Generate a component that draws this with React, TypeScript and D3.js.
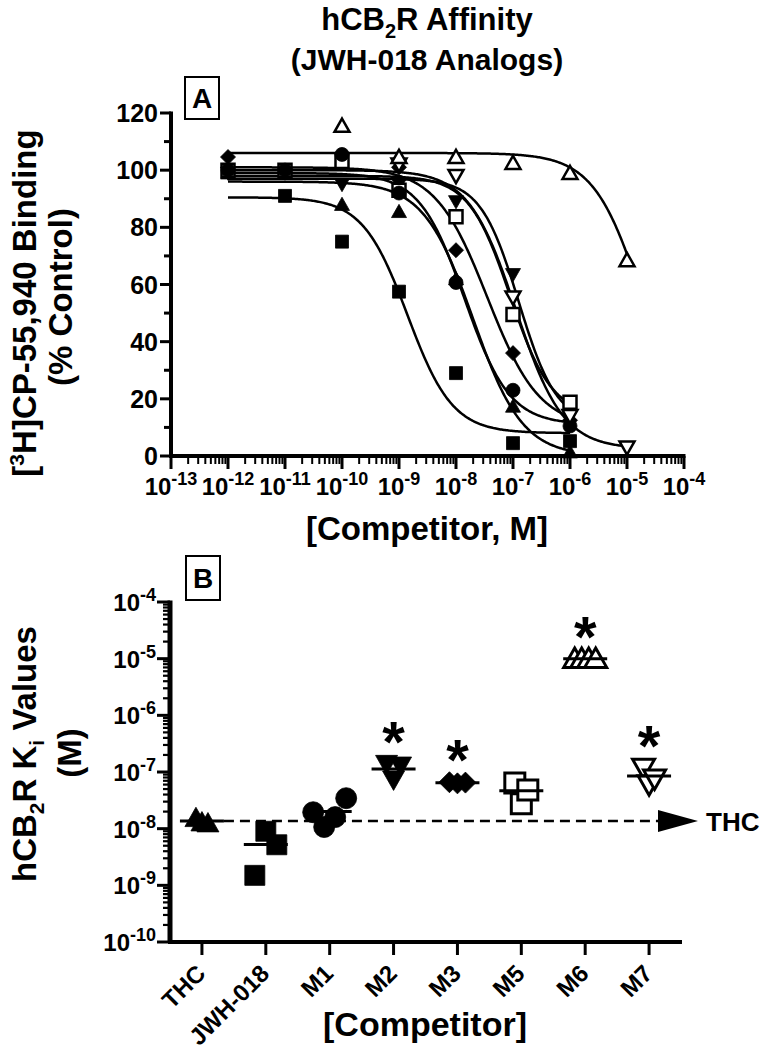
import React from 'react';
import * as d3 from 'd3';

const FONT = '"Liberation Sans", Arial, Helvetica, sans-serif';

// ---------- Panel A data (log10 molar concentration) ----------
const concLogA = [-12, -11, -10, -9, -8, -7, -6, -5];
const seriesNames = ['THC', 'JWH-018', 'M1', 'M2', 'M3', 'M5', 'M6', 'M7'];
const bindTHC = [99, null, 88, 85.5, 62, 17.4, 1.4, null];
const bindJWH = [100, 91, 75, 57.5, 29, 4.5, 5.2, null];
const bindM1 = [100, 100, 105.5, 92, 60.7, 23, 10.5, null];
const bindM2 = [99, 99, 95, 95, 89, 63.5, 14, null];
const bindM3 = [104.6, null, null, 101, 72, 36, 12.5, null];
const bindM5 = [100, 100, 103, 93, 83.7, 49.5, 18.8, null];
const bindM6 = [null, null, 115.5, 104.6, 104.6, 102.5, 99, 68.5];
const bindM7 = [null, null, null, 102, 98, 55.5, 14, 3];
// fitted one-site competition curves
const fitTop = [96, 90.5, 99, 97, 101, 98, 106, 100];
const fitBottom = [0, 8, 11, 11, 10, 14, 0, 2.5];
const fitLogIC50 = [-7.7, -8.85, -7.85, -6.9, -7.45, -7.05, -4.7, -6.95];
const fitHill = [1, 1.1, 1.1, 1.3, 0.95, 1.2, 1, 1.05];

const yTicksA = [0, 20, 40, 60, 80, 100, 120];
const yMinorA = [10, 30, 50, 70, 90, 110];
const xDecadesA = [-13, -12, -11, -10, -9, -8, -7, -6, -5, -4];

// ---------- Panel B data (Ki, M) ----------
const categoriesB = ['THC', 'JWH-018', 'M1', 'M2', 'M3', 'M5', 'M6', 'M7'];
const kiTHC = [1.55e-8, 1.3e-8, 1.25e-8];
const kiJWH = [1.5e-9, 9e-9, 5.2e-9];
const kiM1 = [1.95e-8, 1.07e-8, 1.6e-8, 3.45e-8];
const kiM2 = [1.38e-7, 7.3e-8, 1.29e-7];
const kiM3 = [6.6e-8, 6.3e-8, 6.5e-8];
const kiM5 = [6.4e-8, 2.75e-8, 4.8e-8];
const kiM6 = [1e-5, 1e-5, 1e-5, 1e-5];
const kiM7 = [1.18e-7, 6e-8, 7.6e-8];
const significantB = [false, false, false, true, true, false, true, true];
const yDecadesB = [-10, -9, -8, -7, -6, -5, -4];

// ---------- styles ----------
type Shape = 'triUp' | 'square' | 'circle' | 'triDown' | 'diamond';
const shapes: Shape[] = ['triUp', 'square', 'circle', 'triDown', 'diamond', 'square', 'triUp', 'triDown'];
const filled = [true, true, true, true, true, false, false, false];
const spreadB = [6, 11, 11, 7, 8, 6.5, 7, 5.5];

function markerPath(shape: Shape, s: number): string {
  const h = s / 2;
  switch (shape) {
    case 'square':
      return `M${-h},${-h}H${h}V${h}H${-h}Z`;
    case 'circle':
      return `M${h},0A${h},${h} 0 1,1 ${-h},0A${h},${h} 0 1,1 ${h},0Z`;
    case 'diamond':
      return `M0,${-h}L${h},0L0,${h}L${-h},0Z`;
    case 'triUp': {
      const th = s * 0.88;
      return `M0,${-th * 0.55}L${h},${th * 0.45}L${-h},${th * 0.45}Z`;
    }
    case 'triDown': {
      const th = s * 0.88;
      return `M0,${th * 0.55}L${h},${-th * 0.45}L${-h},${-th * 0.45}Z`;
    }
  }
  return '';
}

function Marker({ x, y, shape, isFilled, size, sw }: any) {
  return (
    <path
      d={markerPath(shape, size)}
      transform={`translate(${x},${y})`}
      fill={isFilled ? '#000' : '#fff'}
      stroke="#000"
      strokeWidth={isFilled ? 0.8 : sw}
      strokeLinejoin="miter"
    />
  );
}

export default function App() {
  const bindData = [bindTHC, bindJWH, bindM1, bindM2, bindM3, bindM5, bindM6, bindM7];
  const kiData = [kiTHC, kiJWH, kiM1, kiM2, kiM3, kiM5, kiM6, kiM7];

  const xA = d3.scaleLog().domain([1e-13, 1e-4]).range([171, 684]);
  const yA = d3.scaleLinear().domain([0, 120]).range([456, 113]);
  const xB = d3.scalePoint<string>().domain(categoriesB).range([170, 681]).padding(0.5);
  const yB = d3.scaleLog().domain([1e-10, 1e-4]).range([942, 602]);

  const axisA = yA(0);
  const axisLeftA = xA(1e-13);

  const curves = seriesNames.map((_, i) => {
    const vals = bindData[i];
    let last = -12;
    vals.forEach((v, j) => { if (v !== null) last = concLogA[j]; });
    const f = (l: number) => fitBottom[i] + (fitTop[i] - fitBottom[i]) / (1 + Math.pow(10, (l - fitLogIC50[i]) * fitHill[i]));
    const samples = d3.range(-12, last + 1e-9, 0.02);
    const line = d3.line<number>().x(l => xA(Math.pow(10, l))).y(l => yA(f(l)));
    return line(samples) as string;
  });

  const drawOrderA = [1, 0, 3, 4, 5, 2, 7, 6];

  const minorXA: number[] = [];
  for (let e = -13; e < -4; e++) for (let k = 2; k <= 9; k++) minorXA.push(k * Math.pow(10, e));
  const minorYB: number[] = [];
  for (let e = -10; e < -4; e++) for (let k = 2; k <= 9; k++) minorYB.push(k * Math.pow(10, e));

  const thcMean = d3.mean(kiTHC) as number;
  const thcY = yB(thcMean);

  return (
    <svg width={761} height={1050} style={{ position: 'absolute', left: 0, top: 0, background: '#fff' }}
      fontFamily={FONT} fontWeight="bold">
      <rect x={0} y={0} width={761} height={1050} fill="#fff" />
      {/* Title */}
      <text x={427} y={30} textAnchor="middle" fontSize={31}>
        hCB<tspan fontSize={20} dy={8}>2</tspan><tspan dy={-8}>R Affinity</tspan>
      </text>
      <text x={427} y={70} textAnchor="middle" fontSize={30}>(JWH-018 Analogs)</text>

      {/* ===== Panel A ===== */}
      <rect x={185} y={77} width={34} height={42} fill="#fff" stroke="#000" strokeWidth={2} />
      <text x={202} y={108} textAnchor="middle" fontSize={28}>A</text>

      <text transform="translate(36,303) rotate(-90)" textAnchor="middle" fontSize={33}>
        [<tspan fontSize={21} dy={-12}>3</tspan><tspan dy={12}>H]CP-55,940 Binding</tspan>
      </text>
      <text transform="translate(72,297) rotate(-90)" textAnchor="middle" fontSize={33}>(% Control)</text>

      {/* y axis A */}
      <line x1={axisLeftA} x2={axisLeftA} y1={yA(120) - 1.5} y2={axisA} stroke="#000" strokeWidth={4} />
      {yTicksA.map(t => (
        <g key={'ya' + t}>
          <line x1={axisLeftA - 11} x2={axisLeftA} y1={yA(t)} y2={yA(t)} stroke="#000" strokeWidth={3} />
          <text x={158} y={yA(t) + 9} textAnchor="end" fontSize={25}>{t}</text>
        </g>
      ))}
      {yMinorA.map(t => (
        <line key={'yma' + t} x1={axisLeftA - 7} x2={axisLeftA} y1={yA(t)} y2={yA(t)} stroke="#000" strokeWidth={3} />
      ))}

      {/* x axis A */}
      <line x1={axisLeftA - 2} x2={xA(1e-4) + 1.5} y1={axisA} y2={axisA} stroke="#000" strokeWidth={4} />
      {xDecadesA.map(e => (
        <g key={'xa' + e}>
          <line x1={xA(Math.pow(10, e))} x2={xA(Math.pow(10, e))} y1={axisA} y2={axisA + 13} stroke="#000" strokeWidth={3} />
          <text x={xA(Math.pow(10, e))} y={495} textAnchor="middle" fontSize={24}>
            10<tspan fontSize={18} dy={-10}>{e}</tspan>
          </text>
        </g>
      ))}
      {minorXA.map((v, i) => (
        <line key={'xma' + i} x1={xA(v)} x2={xA(v)} y1={axisA} y2={axisA + 8} stroke="#000" strokeWidth={2} />
      ))}
      <text x={427} y={540} textAnchor="middle" fontSize={33}>[Competitor, M]</text>

      {curves.map((d, i) => (
        <path key={'c' + i} d={d} fill="none" stroke="#000" strokeWidth={2.5} />
      ))}
      {drawOrderA.map(i => (
        <g key={'pa' + i}>
          {bindData[i].map((v, j) => v === null ? null : (
            <Marker key={j} x={xA(Math.pow(10, concLogA[j]))} y={yA(v)} shape={shapes[i]} isFilled={filled[i]}
              size={shapes[i] === 'square' ? 13 : shapes[i] === 'circle' ? 14 : 15} sw={2.5} />
          ))}
        </g>
      ))}

      {/* ===== Panel B ===== */}
      <rect x={186} y={556} width={34} height={44} fill="#fff" stroke="#000" strokeWidth={2} />
      <text x={203} y={588} textAnchor="middle" fontSize={28}>B</text>

      <text transform="translate(36,754) rotate(-90)" textAnchor="middle" fontSize={33}>
        hCB<tspan fontSize={21} dy={8}>2</tspan><tspan dy={-8}>R K</tspan><tspan fontSize={21} dy={8}>i</tspan><tspan dy={-8}> Values</tspan>
      </text>
      <text transform="translate(81,753) rotate(-90)" textAnchor="middle" fontSize={33}>(M)</text>

      {/* y axis B */}
      <line x1={170} x2={170} y1={yB(1e-4) - 1.5} y2={yB(1e-10)} stroke="#000" strokeWidth={5} />
      {yDecadesB.map(e => (
        <g key={'yb' + e}>
          <line x1={157} x2={170} y1={yB(Math.pow(10, e))} y2={yB(Math.pow(10, e))} stroke="#000" strokeWidth={3} />
          <text x={156} y={yB(Math.pow(10, e)) + 9} textAnchor="end" fontSize={24}>
            10<tspan fontSize={18} dy={-10}>{e}</tspan>
          </text>
        </g>
      ))}
      {minorYB.map((v, i) => (
        <line key={'ymb' + i} x1={163} x2={170} y1={yB(v)} y2={yB(v)} stroke="#000" strokeWidth={2.2} />
      ))}

      {/* x axis B */}
      <line x1={168} x2={682} y1={yB(1e-10)} y2={yB(1e-10)} stroke="#000" strokeWidth={4} />
      {categoriesB.map(c => (
        <g key={'xb' + c}>
          <line x1={xB(c)} x2={xB(c)} y1={yB(1e-10)} y2={yB(1e-10) + 13} stroke="#000" strokeWidth={3} />
          <text transform={`translate(${(xB(c) as number) + 5},975) rotate(-45)`} textAnchor="end" fontSize={24}>{c}</text>
        </g>
      ))}
      <text x={425} y={1036} textAnchor="middle" fontSize={34}>[Competitor]</text>

      {/* THC reference dashed line */}
      <line x1={(xB('THC') as number) + 22} x2={660} y1={thcY} y2={thcY} stroke="#000" strokeWidth={2.5} strokeDasharray="10 6" />
      <path d={`M658,${thcY - 11}L698,${thcY}L658,${thcY + 11}Z`} fill="#000" />
      <text x={706} y={thcY + 10} fontSize={26}>THC</text>

      {categoriesB.map((c, i) => {
        const vals = kiData[i];
        const cx = xB(c) as number;
        const n = vals.length;
        const m = d3.mean(vals) as number;
        const mx = d3.max(vals) as number;
        const shapeSize = shapes[i] === 'square' ? 20 : shapes[i] === 'circle' ? 21 : shapes[i] === 'diamond' ? 21 : 22;
        return (
          <g key={'pb' + c}>
            {vals.map((v, j) => (
              <Marker key={j} x={cx + (j - (n - 1) / 2) * spreadB[i]} y={yB(v)} shape={shapes[i]} isFilled={filled[i]}
                size={shapeSize} sw={3} />
            ))}
            <line x1={cx - 22} x2={cx + 22} y1={yB(m)} y2={yB(m)} stroke="#000" strokeWidth={3} />
            {significantB[i] && (
              <text x={cx} y={yB(mx) - 2} textAnchor="middle" fontSize={58}>*</text>
            )}
          </g>
        );
      })}
    </svg>
  );
}
